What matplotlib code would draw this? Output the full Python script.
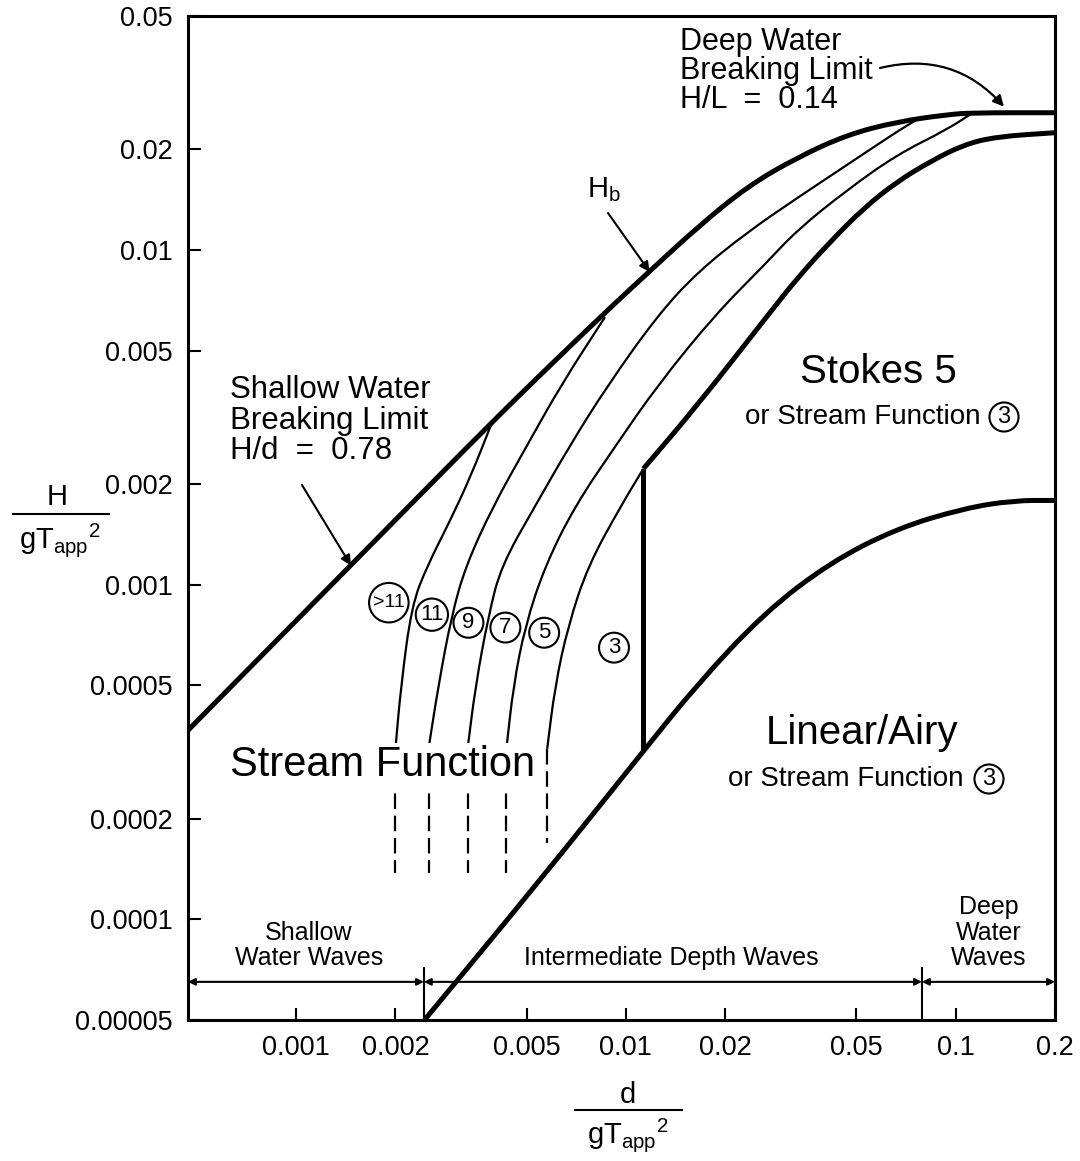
import matplotlib
matplotlib.use("Agg")
import matplotlib.pyplot as plt
from matplotlib.lines import Line2D
from matplotlib.path import Path
from matplotlib.patches import PathPatch
from matplotlib.ticker import FixedLocator, FixedFormatter, NullLocator

plt.rcParams['font.family'] = ['Liberation Sans', 'DejaVu Sans']
plt.rcParams['mathtext.fontset'] = 'custom'
plt.rcParams['mathtext.rm'] = 'Liberation Sans'
plt.rcParams['mathtext.it'] = 'Liberation Sans:italic'
plt.rcParams['mathtext.bf'] = 'Liberation Sans:bold'

# breaking limit H_b (shallow 0.78 line bending to deep water limit)
hb_x = [0.00047, 0.002, 0.0039, 0.006, 0.009, 0.0119, 0.0165, 0.0234, 0.0331, 0.0469, 0.0664, 0.0939, 0.113, 0.2]
hb_y = [0.000367, 0.00156, 0.00304, 0.0046, 0.00675, 0.0087, 0.0117, 0.0155, 0.0189, 0.0221, 0.02415, 0.02536, 0.0257, 0.0257]

# stream function order boundaries (thin)
c1_x = [0.0020, 0.00208, 0.00224, 0.0025, 0.0029, 0.00338, 0.00392]
c1_y = [0.000323, 0.000499, 0.000865, 0.00114, 0.00152, 0.0021, 0.00304]
c2_x = [0.00252, 0.0027, 0.00296, 0.00327, 0.00396, 0.00502, 0.00636, 0.00864]
c2_y = [0.000323, 0.000499, 0.000808, 0.00114, 0.00172, 0.00261, 0.00395, 0.0063]
c3_x = [0.00331, 0.0035, 0.00383, 0.00419, 0.00531, 0.00677, 0.00882, 0.0125, 0.0165, 0.0234, 0.0331, 0.0469, 0.0663, 0.0762]
c3_y = [0.000323, 0.000499, 0.000808, 0.00114, 0.00172, 0.00261, 0.00395, 0.00639, 0.00859, 0.01132, 0.01431, 0.01797, 0.02256, 0.0245]
c4_x = [0.00434, 0.00456, 0.00495, 0.00569, 0.00701, 0.00933, 0.0125, 0.0186, 0.0263, 0.0331, 0.0469, 0.0663, 0.0939, 0.112]
c4_y = [0.000323, 0.000499, 0.000754, 0.00114, 0.00172, 0.00261, 0.00395, 0.00639, 0.00902, 0.01148, 0.01512, 0.01925, 0.02287, 0.0256]
c5_x = [0.00577, 0.0061, 0.00668, 0.00768, 0.00966, 0.0113]
c5_y = [0.000323, 0.000499, 0.000754, 0.00114, 0.00172, 0.00222]

# dashed extensions below the stream function curves
dash_x = [0.0020, 0.00252, 0.00331, 0.00434, 0.00577]
dash_top = [0.000323, 0.000323, 0.000323, 0.000323, 0.000323]
dash_bot = [0.000137, 0.000137, 0.000137, 0.000137, 0.000169]

# Stokes 5 boundary (thick)
st_x = [0.0113, 0.0165, 0.0270, 0.0331, 0.0416, 0.0527, 0.0663, 0.0835, 0.1057, 0.133, 0.2]
st_y = [0.00222, 0.00344, 0.0064, 0.00824, 0.01057, 0.01335, 0.01598, 0.01835, 0.02063, 0.0218, 0.0224]

# linear / airy boundary (thick)
lin_x = [0.00245, 0.00531, 0.0113, 0.0165, 0.0263, 0.0416, 0.0663, 0.1057, 0.1497, 0.2]
lin_y = [0.00005, 0.0001256, 0.000318, 0.000505, 0.000824, 0.001164, 0.001472, 0.001689, 0.001784, 0.001784]

# vertical separator between stream function 3 and linear
vert_x = 0.0113
vert_y = [0.000318, 0.00222]

# wave depth regions
region_edges = [0.00047, 0.00244, 0.079, 0.2]
region_y = 0.0000650

x_ticks = [0.001, 0.002, 0.005, 0.01, 0.02, 0.05, 0.1, 0.2]
x_labels = ['0.001', '0.002', '0.005', '0.01', '0.02', '0.05', '0.1', '0.2']
y_ticks = [0.00005, 0.0001, 0.0002, 0.0005, 0.001, 0.002, 0.005, 0.01, 0.02, 0.05]
y_labels = ['0.00005', '0.0001', '0.0002', '0.0005', '0.001', '0.002', '0.005', '0.01', '0.02', '0.05']

order_labels = ['>11', '11', '9', '7', '5', '3']
order_x = [0.00191, 0.00258, 0.00333, 0.00431, 0.00565, 0.0092]
order_y = [0.000883, 0.000813, 0.000769, 0.000744, 0.000718, 0.000648]

W, H = 1080, 1161
fig = plt.figure(figsize=(W / 100, H / 100), dpi=100)
ax = fig.add_axes([188 / W, 1 - 1020 / H, (1055 - 188) / W, (1020 - 16) / H])
ax.set_xscale('log')
ax.set_yscale('log')
ax.set_xlim(0.00047, 0.2)
ax.set_ylim(0.00005, 0.05)


def P(px, py):
    return (px / W, 1 - py / H)


def curve(xs, ys, lw):
    # quadratic bezier through segment midpoints (geometric means -> log space)
    pts = list(zip(xs, ys))
    verts = [pts[0]]
    codes = [Path.MOVETO]
    mids = [((a[0] * b[0]) ** 0.5, (a[1] * b[1]) ** 0.5) for a, b in zip(pts[:-1], pts[1:])]
    verts.append(mids[0])
    codes.append(Path.LINETO)
    for i in range(1, len(pts) - 1):
        verts += [pts[i], mids[i]]
        codes += [Path.CURVE3, Path.CURVE3]
    verts.append(pts[-1])
    codes.append(Path.LINETO)
    ax.add_patch(PathPatch(Path(verts, codes), fill=False, ec='black', lw=lw,
                           capstyle='butt', joinstyle='round'))


curve(hb_x, hb_y, 3.6)
curve(st_x, st_y, 3.6)
curve(lin_x, lin_y, 3.6)
ax.plot([vert_x, vert_x], vert_y, color='black', lw=3.6, solid_capstyle='butt')
for xs, ys in [(c1_x, c1_y), (c2_x, c2_y), (c3_x, c3_y), (c4_x, c4_y), (c5_x, c5_y)]:
    curve(xs, ys, 1.6)
for x, y0, y1 in zip(dash_x, dash_top, dash_bot):
    ax.plot([x, x], [y0, y1], color='black', lw=1.6, dashes=(7, 3))

# order circles
for lab, x, y in zip(order_labels, order_x, order_y):
    fs = 14 if lab == '>11' else 16
    ax.text(x, y, lab, ha='center', va='center', fontsize=fs, zorder=5,
            bbox=dict(boxstyle='circle,pad=0.2', fc='white', ec='black', lw=1.5))

# wave depth region arrows
for a, b in zip(region_edges[:-1], region_edges[1:]):
    ax.annotate('', xy=(b, region_y), xytext=(a, region_y),
                arrowprops=dict(arrowstyle='<|-|>', lw=1.5, color='black',
                                mutation_scale=10, shrinkA=0, shrinkB=0))
for x in region_edges[1:3]:
    ax.plot([x, x], [0.00005, 0.0000715], color='black', lw=1.5)

# axes style
for s in ax.spines.values():
    s.set_linewidth(2.2)
ax.xaxis.set_major_locator(FixedLocator(x_ticks))
ax.xaxis.set_major_formatter(FixedFormatter(x_labels))
ax.yaxis.set_major_locator(FixedLocator(y_ticks))
ax.yaxis.set_major_formatter(FixedFormatter(y_labels))
ax.xaxis.set_minor_locator(NullLocator())
ax.yaxis.set_minor_locator(NullLocator())
ax.tick_params(which='major', direction='in', length=9, width=1.5, labelsize=19.5, pad=11)

# region labels
fig.text(*P(309, 933), 'Shallow', ha='center', va='center', fontsize=18)
fig.text(*P(309, 958), 'Water Waves', ha='center', va='center', fontsize=18)
fig.text(*P(671, 958), 'Intermediate Depth Waves', ha='center', va='center', fontsize=18)
fig.text(*P(989, 907), 'Deep', ha='center', va='center', fontsize=18)
fig.text(*P(989, 933), 'Water', ha='center', va='center', fontsize=18)
fig.text(*P(989, 958), 'Waves', ha='center', va='center', fontsize=18)

# region names
fig.text(*P(878, 372), 'Stokes 5', ha='center', va='center', fontsize=29)
fig.text(*P(745, 417), 'or Stream Function', ha='left', va='center', fontsize=20)
fig.text(*P(1004, 417), '3', ha='center', va='center', fontsize=17,
         bbox=dict(boxstyle='circle,pad=0.15', fc='white', ec='black', lw=1.5))
fig.text(*P(862, 733), 'Linear/Airy', ha='center', va='center', fontsize=29)
fig.text(*P(728, 779), 'or Stream Function', ha='left', va='center', fontsize=20)
fig.text(*P(989, 779), '3', ha='center', va='center', fontsize=17,
         bbox=dict(boxstyle='circle,pad=0.15', fc='white', ec='black', lw=1.5))
fig.text(*P(230, 765), 'Stream Function', ha='left', va='center', fontsize=30, zorder=6,
         bbox=dict(boxstyle='square,pad=0.05', fc='white', ec='none'))

# breaking limit notes
fig.text(*P(680, 42), 'Deep Water', ha='left', va='center', fontsize=22)
fig.text(*P(680, 71), 'Breaking Limit', ha='left', va='center', fontsize=22)
fig.text(*P(680, 100), 'H/L  =  0.14', ha='left', va='center', fontsize=22)
ax.annotate('', xy=(0.14, 0.0268), xycoords='data', xytext=P(880, 68), textcoords='figure fraction',
            arrowprops=dict(arrowstyle='-|>', lw=1.6, color='black', mutation_scale=16,
                            shrinkA=0, shrinkB=0, connectionstyle='arc3,rad=-0.3'))

fig.text(*P(230, 390), 'Shallow Water', ha='left', va='center', fontsize=22.5)
fig.text(*P(230, 421), 'Breaking Limit', ha='left', va='center', fontsize=22.5)
fig.text(*P(230, 451), 'H/d  =  0.78', ha='left', va='center', fontsize=22.5)
ax.annotate('', xy=(0.001466, 0.00114), xycoords='data', xytext=P(302, 485), textcoords='figure fraction',
            arrowprops=dict(arrowstyle='-|>', lw=1.5, color='black', mutation_scale=15,
                            shrinkA=0, shrinkB=0))

fig.text(*P(604, 190), r'H$_{\mathrm{b}}$', ha='center', va='center', fontsize=21)
ax.annotate('', xy=(0.01181, 0.00859), xycoords='data', xytext=P(608, 213), textcoords='figure fraction',
            arrowprops=dict(arrowstyle='-|>', lw=1.5, color='black', mutation_scale=15,
                            shrinkA=0, shrinkB=0))

# axis labels as stacked fractions
fig.text(*P(57, 497), 'H', ha='center', va='center', fontsize=21)
fig.add_artist(Line2D([13 / W, 109 / W], [1 - 514 / H] * 2, color='black', lw=1.5))
fig.text(*P(60, 540), r'$\mathrm{gT}_{\mathrm{app}}{}^{\mathrm{2}}$', ha='center', va='center', fontsize=21)

fig.text(*P(628, 1095), 'd', ha='center', va='center', fontsize=21)
fig.add_artist(Line2D([575 / W, 682 / W], [1 - 1110 / H] * 2, color='black', lw=1.5))
fig.text(*P(628, 1135), r'$\mathrm{gT}_{\mathrm{app}}{}^{\mathrm{2}}$', ha='center', va='center', fontsize=21)

fig.savefig('out.png', dpi=100)
